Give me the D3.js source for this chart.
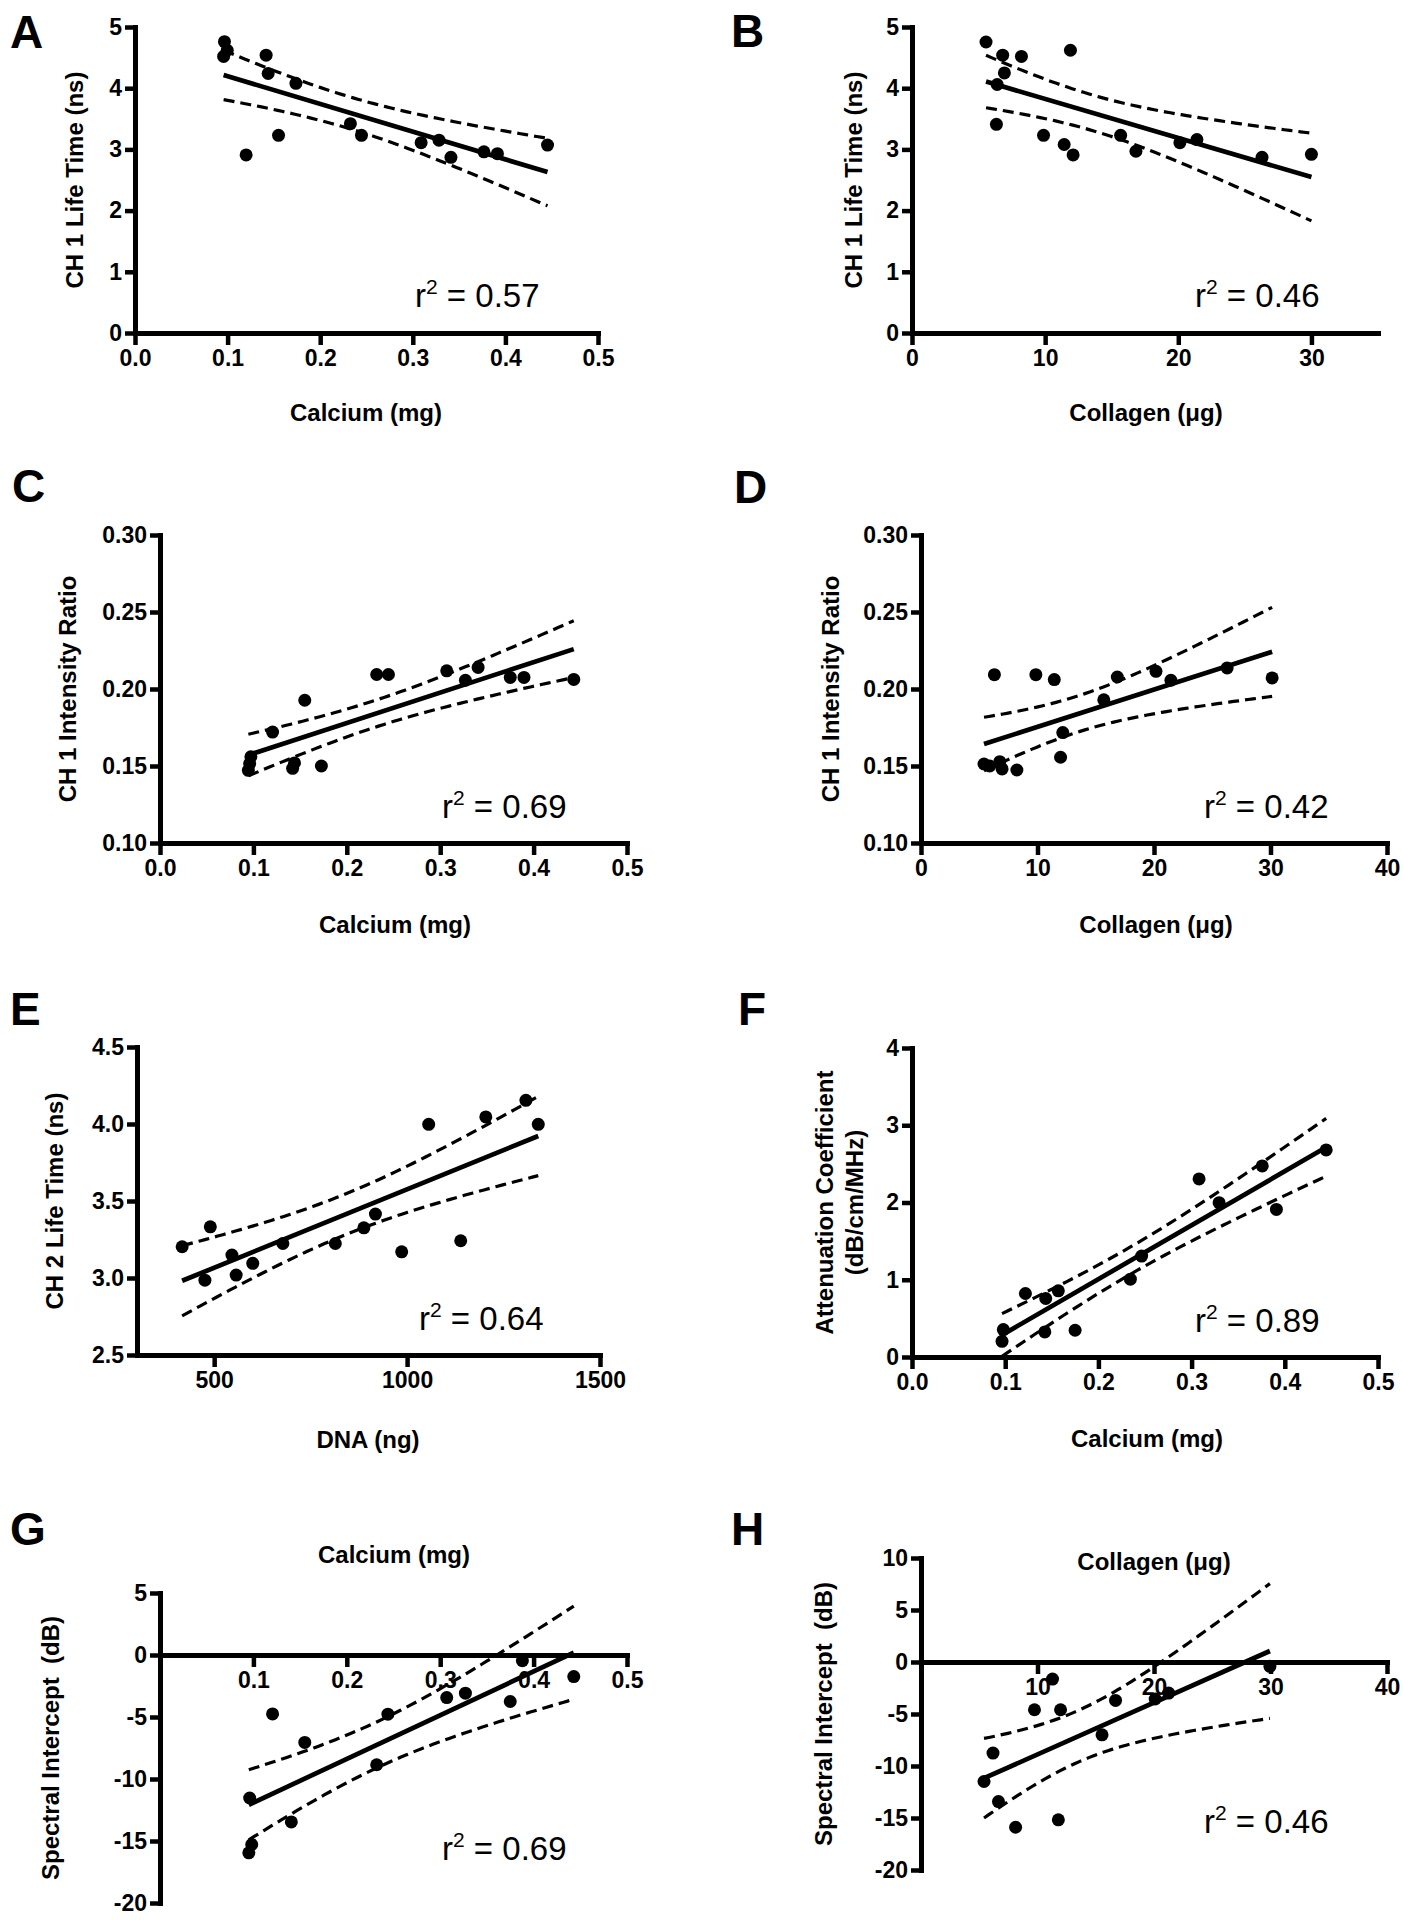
<!DOCTYPE html>
<html><head><meta charset="utf-8">
<script src="https://cdn.jsdelivr.net/npm/d3@7"></script>
<style>
body{margin:0;background:#fff}
svg text{font-family:"Liberation Sans",Arial,Helvetica,sans-serif;fill:#000;white-space:pre}
</style>
</head><body>
<svg id="chart" width="1403" height="1920"></svg>
<script>
// ---------------- DATA ----------------
// A: CH1 lifetime vs calcium
const calciumA  = [0.0966,0.0957,0.0996,0.1416,0.1438,0.1738,0.120,0.155,0.2326,0.2446,0.309,0.3283,0.3412,0.3768,0.3914,0.4455];
const lifetimeA = [4.76,4.52,4.62,4.54,4.24,4.08,2.91,3.23,3.42,3.23,3.11,3.15,2.87,2.96,2.93,3.07];
// B: CH1 lifetime vs collagen
const collagenB = [5.56,6.81,8.22,6.94,6.40,6.34,11.9,9.88,11.43,12.1,15.67,16.82,20.12,21.4,26.29,30.0];
const lifetimeB = [4.755,4.54,4.52,4.25,4.06,3.41,4.62,3.23,3.08,2.91,3.23,2.97,3.11,3.16,2.87,2.92];
// C: CH1 intensity ratio vs calcium
const calciumC  = [0.0946,0.096,0.0973,0.1205,0.142,0.144,0.155,0.1728,0.232,0.2446,0.307,0.327,0.3406,0.375,0.3897,0.443];
const ratioC    = [0.1472,0.1516,0.156,0.172,0.1485,0.152,0.1927,0.150,0.2094,0.2094,0.2118,0.2057,0.214,0.2075,0.2075,0.2062];
// D: CH1 intensity ratio vs collagen
const collagenD = [5.41,5.9,6.76,6.96,8.23,6.3,9.86,11.44,11.98,12.17,15.69,16.85,20.17,21.45,26.28,30.14];
const ratioD    = [0.1513,0.150,0.1528,0.1481,0.1474,0.2093,0.2093,0.2061,0.1557,0.1717,0.193,0.2078,0.2115,0.2057,0.2137,0.2072];
// E: CH2 lifetime vs DNA
const dnaE      = [417,476,490,546,557,600,678,814,888,918,986,1056,1139,1204,1308,1340];
const lifetimeE = [3.203,2.986,3.332,3.149,3.019,3.095,3.224,3.224,3.326,3.415,3.170,3.998,3.242,4.046,4.154,3.998];
// F: attenuation coefficient vs calcium
const calciumF  = [0.0966,0.098,0.1217,0.1435,0.1425,0.157,0.175,0.2343,0.2464,0.308,0.3295,0.3758,0.391,0.4444];
const attenF    = [0.203,0.355,0.822,0.757,0.324,0.856,0.346,1.008,1.306,2.305,1.998,2.474,1.911,2.681];
// G: spectral intercept vs calcium
const calciumG  = [0.0951,0.0982,0.096,0.1205,0.1406,0.155,0.232,0.244,0.307,0.327,0.375,0.388,0.443];
const interceptG= [-15.95,-15.28,-11.53,-4.75,-13.46,-7.05,-8.85,-4.77,-3.43,-3.08,-3.75,-0.456,-1.74];
// H: spectral intercept vs collagen
const collagenH = [5.41,6.18,6.65,8.12,9.74,11.29,11.79,11.98,15.54,16.7,20.1,21.26,29.95];
const interceptH= [-11.49,-8.76,-13.42,-15.89,-4.59,-1.64,-15.18,-4.59,-7.0,-3.69,-3.56,-2.99,-0.42];

// tick values
const calciumTicks   = [0,0.1,0.2,0.3,0.4,0.5];
const calciumTicksG  = [0.1,0.2,0.3,0.4,0.5];
const collagenTicksB = [0,10,20,30];
const collagenTicksD = [0,10,20,30,40];
const collagenTicksH = [10,20,30,40];
const dnaTicks       = [500,1000,1500];
const lifetimeTicks  = [0,1,2,3,4,5];
const ratioTicks     = [0.10,0.15,0.20,0.25,0.30];
const lifetime2Ticks = [2.5,3.0,3.5,4.0,4.5];
const attenTicks     = [0,1,2,3,4];
const interceptTicksG= [-20,-15,-10,-5,0,5];
const interceptTicksH= [-20,-15,-10,-5,0,5,10];

const panelLetters = ["A","B","C","D","E","F","G","H"];
const r2Labels     = ["0.57","0.46","0.69","0.42","0.64","0.89","0.69","0.46"];

// two-sided 95% t critical values by degrees of freedom
const tCrit = {10:2.228,11:2.201,12:2.179,13:2.160,14:2.145,15:2.131,16:2.120};

const f1 = d => d.toFixed(1), f2 = d => d.toFixed(2), fi = d => String(d);

// ---------------- PANELS ----------------
const panels = [
 {x:calciumA,y:lifetimeA,xd:[0,0.5],yd:[0,5],xt:calciumTicks,yt:lifetimeTicks,xf:f1,yf:fi,
  xTitle:"Calcium (mg)",yTitle:["CH 1 Life Time (ns)"],
  L:{xr:[135,598],yr:[333,27],letter:[10,48],ytx:[75],xtl:[366,421],r2:[415,307]}},
 {x:collagenB,y:lifetimeB,xd:[0,35],yd:[0,5],xt:collagenTicksB,yt:lifetimeTicks,xf:fi,yf:fi,
  xTitle:"Collagen (\u03BCg)",yTitle:["CH 1 Life Time (ns)"],
  L:{xr:[912,1378],yr:[333,27],letter:[731,47],ytx:[854],xtl:[1146,421],r2:[1195,307]}},
 {x:calciumC,y:ratioC,xd:[0,0.5],yd:[0.10,0.30],xt:calciumTicks,yt:ratioTicks,xf:f1,yf:f2,
  xTitle:"Calcium (mg)",yTitle:["CH 1 Intensity Ratio"],
  L:{xr:[160,627],yr:[843,535],letter:[12,502],ytx:[68],xtl:[395,933],r2:[442,818]}},
 {x:collagenD,y:ratioD,xd:[0,40],yd:[0.10,0.30],xt:collagenTicksD,yt:ratioTicks,xf:fi,yf:f2,
  xTitle:"Collagen (\u03BCg)",yTitle:["CH 1 Intensity Ratio"],
  L:{xr:[921,1387],yr:[843,535],letter:[734,503],ytx:[831],xtl:[1156,933],r2:[1204,818]}},
 {x:dnaE,y:lifetimeE,xd:[300,1500],yd:[2.5,4.5],xt:dnaTicks,yt:lifetime2Ticks,xf:fi,yf:f1,
  xTitle:"DNA (ng)",yTitle:["CH 2 Life Time (ns)"],
  L:{xr:[137,600],yr:[1355,1047],letter:[10,1025],ytx:[55],xtl:[368,1448],r2:[419,1330]}},
 {x:calciumF,y:attenF,xd:[0,0.5],yd:[0,4],xt:calciumTicks,yt:attenTicks,xf:f1,yf:fi,
  xTitle:"Calcium (mg)",yTitle:["Attenuation Coefficient","(dB/cm/MHz)"],
  L:{xr:[912,1378],yr:[1357,1048],letter:[738,1025],ytx:[825,855],xtl:[1147,1447],r2:[1195,1332]}},
 {x:calciumG,y:interceptG,xd:[0,0.5],yd:[-20,5],xt:calciumTicksG,yt:interceptTicksG,xf:f1,yf:fi,cross0:true,
  xTitle:"Calcium (mg)",yTitle:["Spectral Intercept  (dB)"],
  L:{xr:[160,627],yr:[1903,1593],letter:[10,1545],ytx:[51],xtl:[394,1563],r2:[442,1860]}},
 {x:collagenH,y:interceptH,xd:[0,40],yd:[-20,10],xt:collagenTicksH,yt:interceptTicksH,xf:fi,yf:fi,cross0:true,
  xTitle:"Collagen (\u03BCg)",yTitle:["Spectral Intercept  (dB)"],
  L:{xr:[921,1387],yr:[1870,1558],letter:[731,1545],ytx:[824],xtl:[1154,1570],r2:[1204,1833]}}
];

const svg = d3.select("#chart");

function fit(xs, ys){
  const n = xs.length, mx = d3.mean(xs), my = d3.mean(ys);
  let sxx=0, sxy=0, syy=0;
  for(let i=0;i<n;i++){const dx=xs[i]-mx, dy=ys[i]-my; sxx+=dx*dx; sxy+=dx*dy; syy+=dy*dy;}
  const b = sxy/sxx, a = my - b*mx;
  const sse = syy - b*sxy, s = Math.sqrt(sse/(n-2));
  const t = tCrit[n-2] || 2.1;
  return {a,b,n,mx,sxx,s,t};
}

panels.forEach((p,i)=>{
  const L = p.L;
  const g = svg.append("g");
  const x = d3.scaleLinear().domain(p.xd).range(L.xr);
  const y = d3.scaleLinear().domain(p.yd).range(L.yr);
  const yCross = p.cross0 ? y(0) : y(p.yd[0]);

  // axes
  const xa = g.append("g").attr("transform",`translate(0,${yCross})`)
    .call(d3.axisBottom(x).tickValues(p.xt).tickFormat(p.xf).tickSize(12).tickPadding(5).tickSizeOuter(0));
  const ya = g.append("g").attr("transform",`translate(${x(p.xd[0])},0)`)
    .call(d3.axisLeft(y).tickValues(p.yt).tickFormat(p.yf).tickSize(10).tickPadding(3).tickSizeOuter(0));
  [xa,ya].forEach(a=>{
    a.select(".domain").attr("stroke","#000").attr("stroke-width",5).attr("stroke-linecap","square");
    a.selectAll(".tick line").attr("stroke","#000").attr("stroke-width",4.5);
    a.selectAll(".tick text").attr("font-size",23).attr("font-weight","bold").attr("fill","#000");
  });

  // regression + 95% CI
  const f = fit(p.x, p.y);
  const [xmin,xmax] = d3.extent(p.x);
  const xs = d3.range(0,61).map(k=> xmin + (xmax-xmin)*k/60);
  const pred = xv => f.a + f.b*xv;
  const half = xv => f.t*f.s*Math.sqrt(1/f.n + (xv-f.mx)*(xv-f.mx)/f.sxx);
  const line = d3.line().x(d=>x(d[0])).y(d=>y(d[1]));
  g.append("path").attr("d", line(xs.map(v=>[v,pred(v)+half(v)])))
    .attr("fill","none").attr("stroke","#000").attr("stroke-width",3.2).attr("stroke-dasharray","11,6");
  g.append("path").attr("d", line(xs.map(v=>[v,pred(v)-half(v)])))
    .attr("fill","none").attr("stroke","#000").attr("stroke-width",3.2).attr("stroke-dasharray","11,6");
  g.append("path").attr("d", line([[xmin,pred(xmin)],[xmax,pred(xmax)]]))
    .attr("fill","none").attr("stroke","#000").attr("stroke-width",4.7);

  // points
  g.selectAll("circle.pt").data(p.x.map((v,k)=>[v,p.y[k]])).join("circle")
    .attr("class","pt").attr("cx",d=>x(d[0])).attr("cy",d=>y(d[1])).attr("r",6.5).attr("fill","#000");

  // panel letter
  g.append("text").attr("x",L.letter[0]).attr("y",L.letter[1]).attr("font-size",46)
    .attr("font-weight","bold").text(panelLetters[i]);

  // axis titles
  g.append("text").attr("x",L.xtl[0]).attr("y",L.xtl[1]).attr("text-anchor","middle")
    .attr("font-size",24).attr("font-weight","bold").text(p.xTitle);
  const cy = (L.yr[0]+L.yr[1])/2;
  p.yTitle.forEach((t,k)=>{
    g.append("text").attr("transform",`translate(${L.ytx[k]},${cy}) rotate(-90)`)
      .attr("text-anchor","middle").attr("dy","0.35em")
      .attr("font-size",24).attr("font-weight","bold").text(t);
  });

  // r^2
  const rt = g.append("text").attr("x",L.r2[0]).attr("y",L.r2[1]).attr("font-size",33);
  rt.append("tspan").text("r");
  rt.append("tspan").attr("font-size",21).attr("dy",-13).text("2");
  rt.append("tspan").attr("dy",13).text(" = " + r2Labels[i]);
});
</script>
</body></html>
